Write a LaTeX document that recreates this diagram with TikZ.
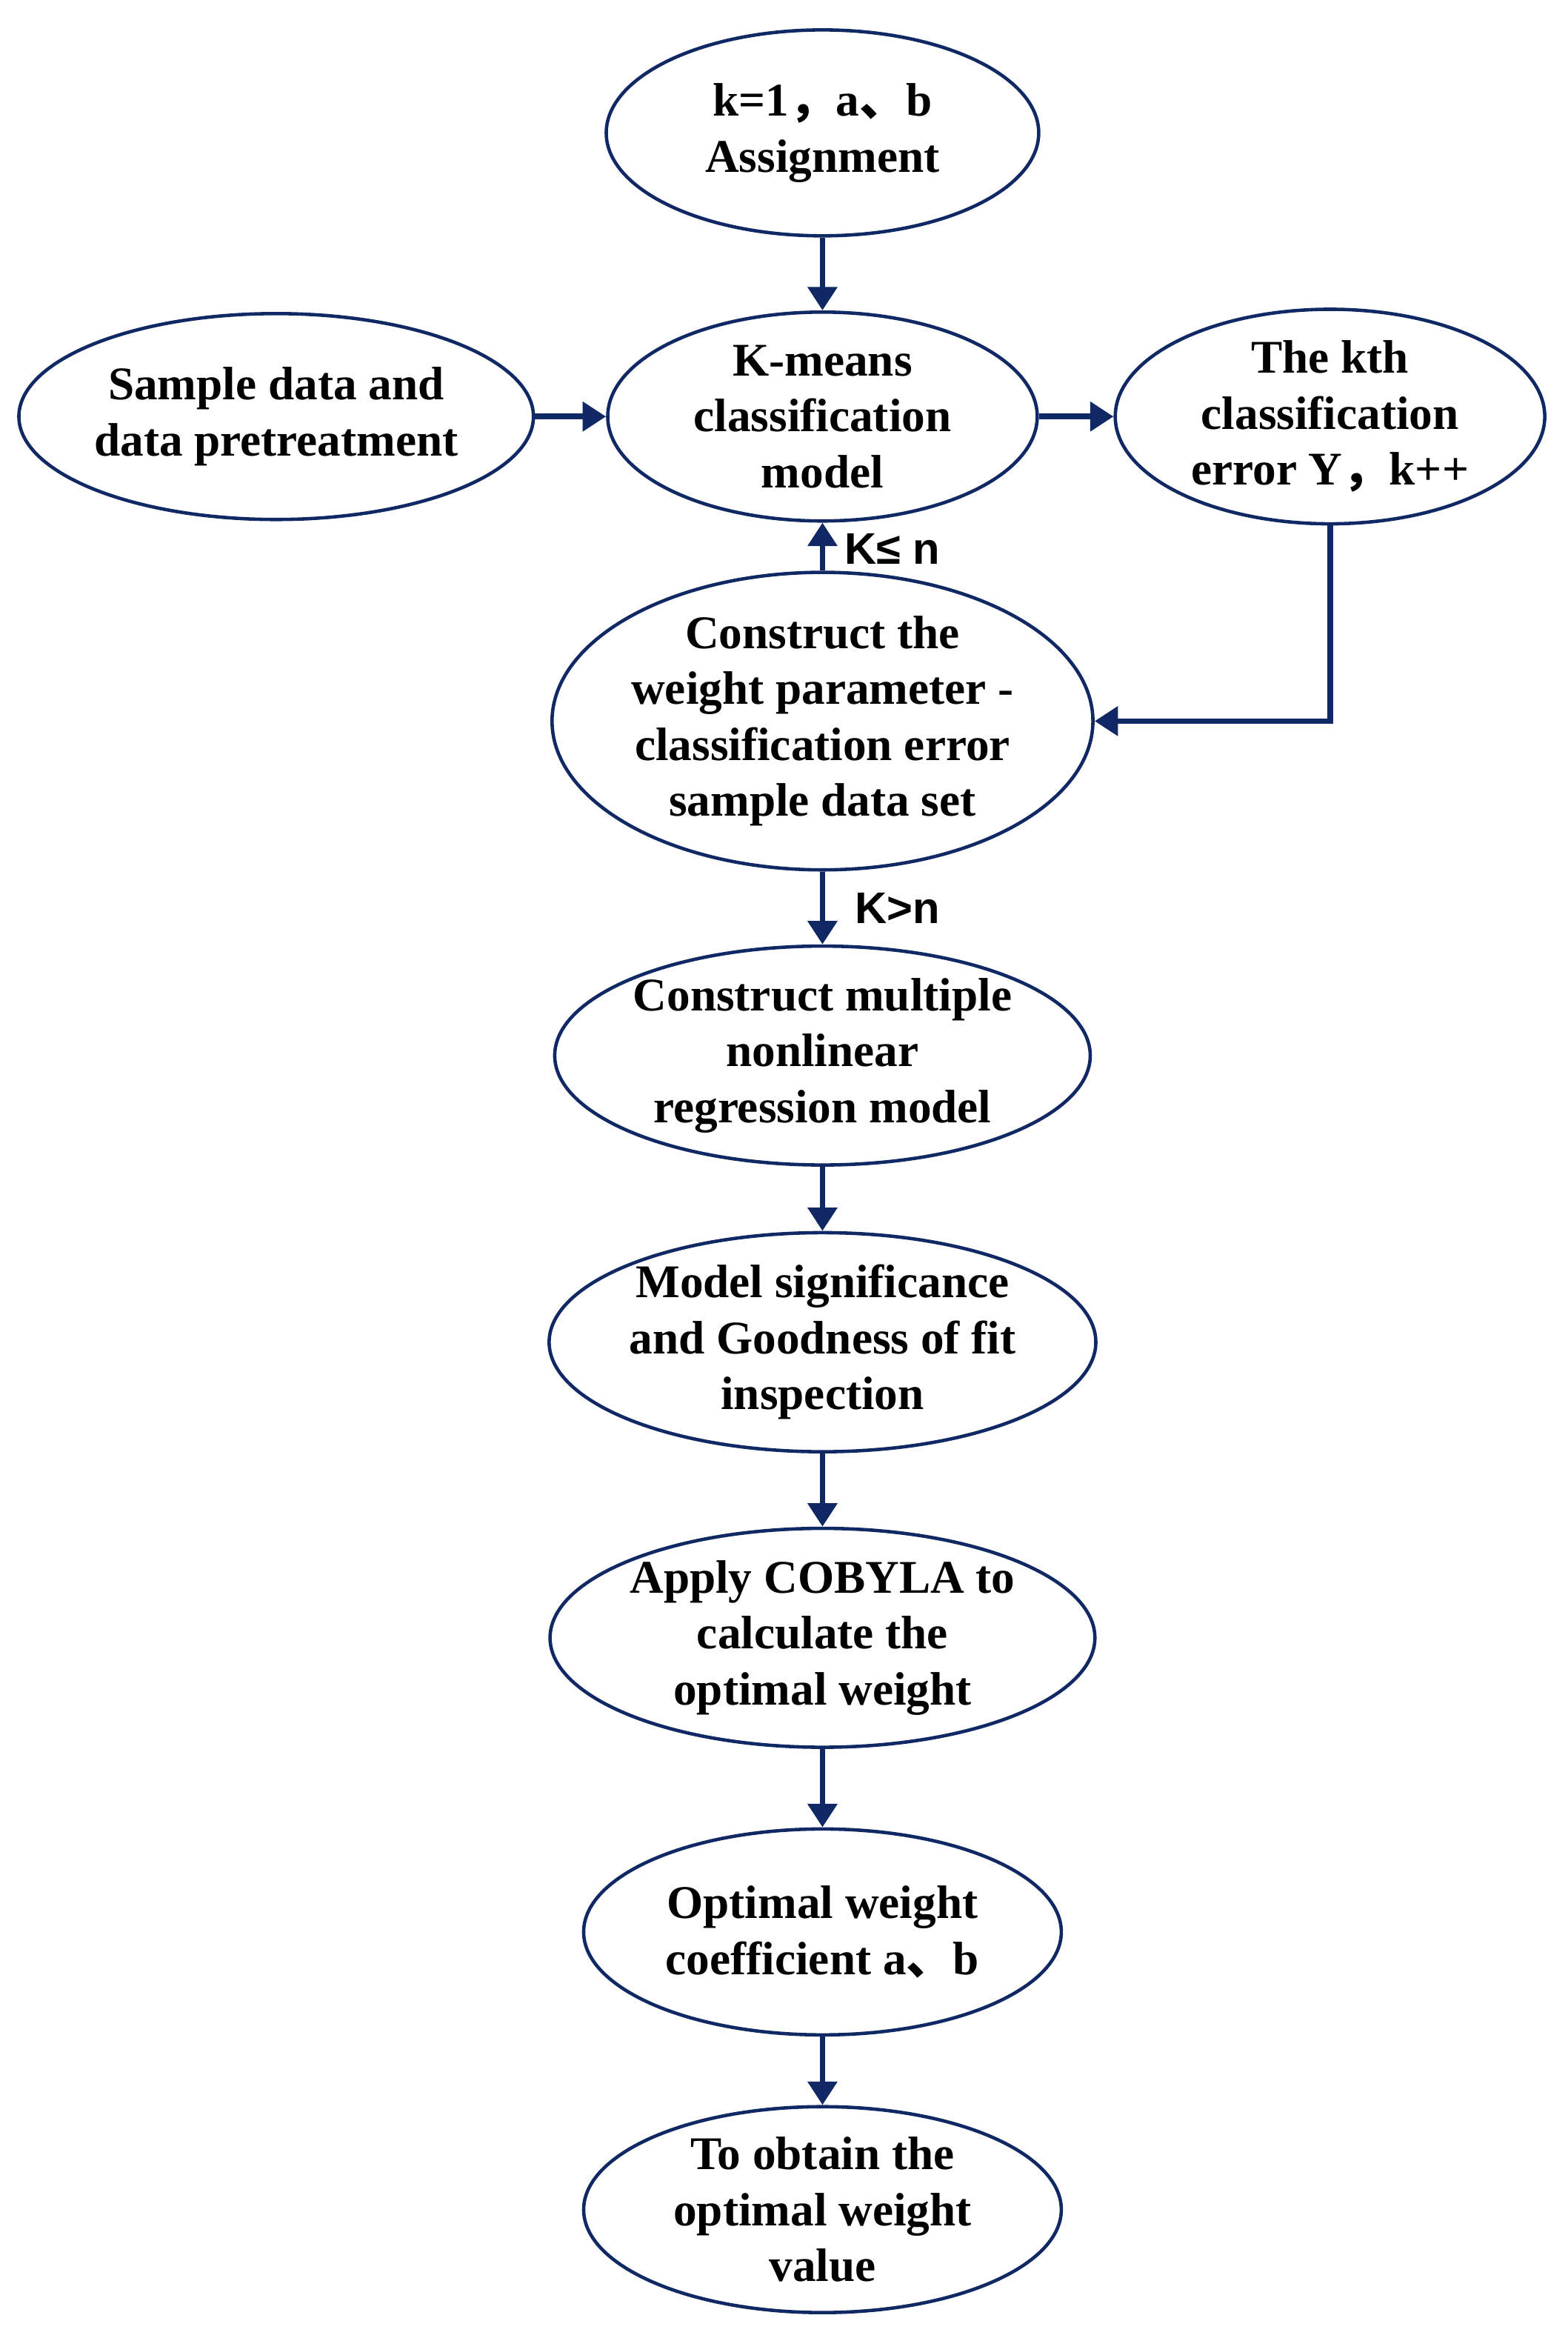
\documentclass[tikz,border=0pt]{standalone}
\usepackage{fontspec}
\setmainfont{Liberation Serif}
\newfontfamily\sanslabel{Liberation Sans}
\newfontfamily\cjk{Noto Sans CJK SC}
\usetikzlibrary{shapes.geometric,arrows.meta}

\definecolor{navy}{RGB}{16,40,100}

\tikzset{
  ell/.style={ellipse, draw=navy, line width=1.3pt, inner sep=0pt, align=center,
    font=\fontsize{18}{21.5}\selectfont\bfseries},
  flow/.style={draw=navy, line width=2.2pt, -{Triangle[length=9pt,width=11pt]}},
  cond/.style={font=\sanslabel\fontsize{17}{20}\selectfont\bfseries, anchor=west}
}

\begin{document}
\begin{tikzpicture}[x=0.02015cm, y=-0.02015cm]

%% frame in reference pixel units (shown at half size)
\useasboundingbox (0,0) rectangle (1050,1566);

%% ellipses
\node[ell, minimum width=5.84cm, minimum height=2.78cm] (init) at (551,89) {k=1{\cjk ，}a{\cjk 、}b\\Assignment};
\node[ell, minimum width=5.80cm, minimum height=2.82cm] (kmeans) at (551,279) {K-means\\classification\\model};
\node[ell, minimum width=6.85cm, minimum height=2.78cm] (sample) at (185,279) {Sample data and\\data pretreatment};
\node[ell, minimum width=5.80cm, minimum height=2.78cm] (kth) at (891,279) {The kth\\classification\\error Y{\cjk ，}k++};
\node[ell, minimum width=6.85cm, minimum height=3.63cm] (wset) at (551,483) {Construct the\\weight parameter -\\classification error\\sample data set};
\node[ell, minimum width=6.45cm, minimum height=2.78cm] (regr) at (551,707) {Construct multiple\\nonlinear\\regression model};
\node[ell, minimum width=6.85cm, minimum height=2.78cm] (test) at (551,899) {Model significance\\and Goodness of fit\\inspection};
\node[ell, minimum width=6.85cm, minimum height=2.82cm] (cobyla) at (551,1097) {Apply COBYLA to\\calculate the\\optimal weight};
\node[ell, minimum width=6.45cm, minimum height=2.78cm] (coef) at (551,1294) {Optimal weight\\coefficient a{\cjk 、}b};
\node[ell, minimum width=6.45cm, minimum height=2.78cm] (result) at (551,1480) {To obtain the\\optimal weight\\value};

%% connectors
\draw[flow] (init) -- (kmeans);
\draw[flow] (sample) -- (kmeans);
\draw[flow] (kmeans) -- (kth);
\draw[flow] (kth.south) |- (wset.east);
\draw[flow] (wset) -- (kmeans) node[cond, pos=0.45, xshift=4pt] {K≤ n};
\draw[flow] (wset) -- (regr) node[cond, pos=0.5, xshift=8pt] {K>n};
\draw[flow] (regr) -- (test);
\draw[flow] (test) -- (cobyla);
\draw[flow] (cobyla) -- (coef);
\draw[flow] (coef) -- (result);

\end{tikzpicture}
\end{document}
